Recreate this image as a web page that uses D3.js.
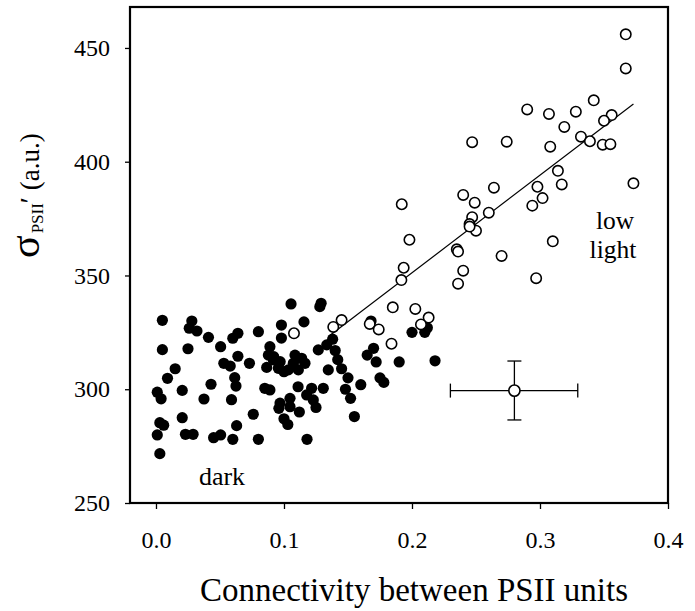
<!DOCTYPE html>
<html>
<head>
<meta charset="utf-8">
<script src="https://cdn.jsdelivr.net/npm/d3@7/dist/d3.min.js"></script>
<style>
  html, body { margin: 0; padding: 0; background: #fff; }
  svg { display: block; }
  text { font-family: "Liberation Serif", "Times New Roman", serif; fill: #000; }
</style>
</head>
<body>
<svg id="chart" width="695" height="611"></svg>
<script>
// Dark-acclimated samples: connectivity vs functional cross-section (filled dots)
const darkConnectivity = [
  0.005, 0.028, 0.026, 0.032, 0.041, 0.0505, 0.060, 0.064, 0.080, 0.005,
  0.025, 0.064, 0.053, 0.058, 0.073, 0.089, 0.092, 0.0865, 0.015, 0.009,
  0.0615, 0.0625, 0.043, 0.001, 0.004, 0.0205, 0.0375, 0.059, 0.085, 0.089,
  0.096, 0.076, 0.0205, 0.003, 0.006, 0.063, 0.001, 0.023, 0.029, 0.045,
  0.0505, 0.060, 0.080, 0.003, 0.098, 0.098, 0.1055, 0.129, 0.128, 0.1156,
  0.0878, 0.0917, 0.097, 0.0956, 0.1086, 0.1073, 0.1138, 0.1164, 0.1112, 0.1268,
  0.1334, 0.1034, 0.100, 0.111, 0.1216, 0.1307, 0.1047, 0.0969, 0.1177, 0.1229,
  0.1047, 0.1346, 0.100, 0.103, 0.112, 0.118, 0.125,
  0.138, 0.140, 0.142, 0.145, 0.150, 0.148, 0.152, 0.155, 0.160, 0.165,
  0.168, 0.170, 0.172, 0.175, 0.178, 0.190, 0.200, 0.210, 0.212, 0.218
];
const darkSigma = [
  330.3, 330.0, 326.8, 325.6, 322.8, 318.7, 322.4, 324.6, 325.3, 317.4,
  317.8, 314.5, 311.4, 310.2, 311.4, 318.7, 314.3, 309.6, 309.0, 304.8,
  305.1, 301.4, 302.2, 298.7, 295.8, 299.5, 295.7, 295.4, 300.4, 299.7,
  291.6, 289.0, 287.5, 285.3, 284.2, 284.0, 279.9, 280.2, 280.2, 278.7,
  279.9, 278.0, 278.0, 271.7, 328.2, 322.5, 337.5, 337.8, 336.3, 329.6,
  315.0, 312.9, 312.1, 309.2, 315.0, 311.4, 313.6, 311.4, 308.5, 317.3,
  319.5, 308.5, 307.7, 301.1, 300.4, 300.4, 296.0, 293.9, 297.5, 295.3,
  292.3, 308.5, 287.0, 284.5, 290.0, 278.0, 292.0,
  322.0, 317.0, 313.0, 309.0, 305.0, 300.0, 296.0, 288.0, 302.0, 315.0,
  330.0, 318.0, 312.0, 305.0, 303.0, 312.0, 325.0, 325.0, 327.0, 312.5
];

// Low-light samples (open circles)
const lightConnectivity = [
  0.367, 0.367, 0.342, 0.290, 0.307, 0.328, 0.319, 0.356, 0.350, 0.332,
  0.339, 0.349, 0.355, 0.308, 0.247, 0.274, 0.314, 0.317, 0.373, 0.298,
  0.264, 0.240, 0.249, 0.302, 0.294, 0.192, 0.260, 0.247, 0.245, 0.250,
  0.245, 0.310, 0.198, 0.270, 0.235, 0.236, 0.240, 0.236, 0.297, 0.1935,
  0.1917, 0.185, 0.2026, 0.213, 0.207, 0.167, 0.174, 0.1078, 0.1385, 0.145,
  0.184
];
const lightSigma = [
  456.0, 441.0, 427.0, 423.0, 421.0, 422.0, 415.3, 420.5, 418.0, 411.0,
  409.0, 407.5, 407.7, 406.6, 408.6, 408.8, 396.0, 390.0, 390.5, 389.0,
  388.6, 385.4, 382.0, 384.0, 380.7, 381.3, 377.6, 375.6, 372.6, 369.7,
  371.5, 365.0, 365.7, 358.6, 361.5, 360.5, 352.1, 346.4, 348.8, 353.4,
  348.0, 336.0, 335.3, 331.5, 328.5, 328.7, 326.3, 324.6, 327.4, 330.4,
  320.0
];

// Fitted trend through the low-light samples (end points of the segment)
const trendConnectivity = [0.135, 0.373];
const trendSigma = [323.3, 425.4];

// Representative error bar: mean and +/- spread
const errMean = [0.280, 299.4];
const errConnectivity = [0.230, 0.3295];
const errSigma = [286.5, 312.4];

// Axis ticks
const xTicks = [0.0, 0.1, 0.2, 0.3, 0.4];
const yTicks = [250, 300, 350, 400, 450];

const svg = d3.select("#chart");
const plotLeft = 130, plotRight = 668, plotTop = 7, plotBottom = 503;

const x = d3.scaleLinear().domain([-0.0203, 0.4]).range([plotLeft, plotRight]);
const y = d3.scaleLinear().domain([250, 468]).range([plotBottom, plotTop]);

// Axes
const xAxis = d3.axisBottom(x).tickValues(xTicks).tickFormat(d3.format(".1f"))
  .tickSize(6).tickPadding(22);
const yAxis = d3.axisLeft(y).tickValues(yTicks).tickFormat(d3.format("d"))
  .tickSize(5).tickPadding(15);

const gx = svg.append("g").attr("transform", `translate(0,${plotBottom})`).call(xAxis);
const gy = svg.append("g").attr("transform", `translate(${plotLeft},0)`).call(yAxis);
[gx, gy].forEach(g => {
  g.select(".domain").remove();
  g.selectAll(".tick line").attr("stroke", "#000").attr("stroke-width", 1.3);
  g.selectAll(".tick text").attr("font-size", 24)
    .style("font-family", '"Liberation Serif", "Times New Roman", serif').attr("fill", "#000");
});

// Plot frame
svg.append("rect")
  .attr("x", plotLeft).attr("y", plotTop)
  .attr("width", plotRight - plotLeft).attr("height", plotBottom - plotTop)
  .attr("fill", "none").attr("stroke", "#000").attr("stroke-width", 2.2);

// Trend line
svg.append("line")
  .attr("x1", x(trendConnectivity[0])).attr("y1", y(trendSigma[0]))
  .attr("x2", x(trendConnectivity[1])).attr("y2", y(trendSigma[1]))
  .attr("stroke", "#000").attr("stroke-width", 1.2);

// Dark samples
const dark = darkConnectivity.map((c, i) => ({ c, s: darkSigma[i] }));
svg.append("g").selectAll("circle").data(dark).join("circle")
  .attr("cx", d => x(d.c)).attr("cy", d => y(d.s)).attr("r", 5.6)
  .attr("fill", "#000");

// Low-light samples
const light = lightConnectivity.map((c, i) => ({ c, s: lightSigma[i] }));
svg.append("g").selectAll("circle").data(light).join("circle")
  .attr("cx", d => x(d.c)).attr("cy", d => y(d.s)).attr("r", 5.2)
  .attr("fill", "#fff").attr("stroke", "#000").attr("stroke-width", 1.6);

// Error bar with caps
const eb = svg.append("g").attr("stroke", "#000").attr("stroke-width", 1.3);
eb.append("line").attr("x1", x(errConnectivity[0])).attr("x2", x(errConnectivity[1]))
  .attr("y1", y(errMean[1])).attr("y2", y(errMean[1]));
eb.append("line").attr("x1", x(errMean[0])).attr("x2", x(errMean[0]))
  .attr("y1", y(errSigma[0])).attr("y2", y(errSigma[1]));
errConnectivity.forEach(v => eb.append("line")
  .attr("x1", x(v)).attr("x2", x(v))
  .attr("y1", y(errMean[1]) - 7).attr("y2", y(errMean[1]) + 7));
errSigma.forEach(v => eb.append("line")
  .attr("x1", x(errMean[0]) - 7).attr("x2", x(errMean[0]) + 7)
  .attr("y1", y(v)).attr("y2", y(v)));
svg.append("circle").attr("cx", x(errMean[0])).attr("cy", y(errMean[1])).attr("r", 5.6)
  .attr("fill", "#fff").attr("stroke", "#000").attr("stroke-width", 1.6);

// Group labels
svg.append("text").attr("x", 222).attr("y", 485).attr("text-anchor", "middle")
  .attr("font-size", 26).text("dark");
svg.append("text").attr("x", 615).attr("y", 229).attr("text-anchor", "middle")
  .attr("font-size", 25.5).text("low");
svg.append("text").attr("x", 613).attr("y", 258).attr("text-anchor", "middle")
  .attr("font-size", 25.5).text("light");

// Axis titles
svg.append("text").attr("x", 414).attr("y", 601).attr("text-anchor", "middle")
  .attr("font-size", 33).text("Connectivity between PSII units");

const yt = svg.append("text").attr("transform", "translate(39,258) rotate(-90)");
yt.append("tspan").attr("font-size", 42).text("σ");
yt.append("tspan").attr("font-size", 17).attr("dy", 4).attr("dx", 2).text("PSII");
yt.append("tspan").attr("font-size", 28).attr("dy", -4).text("′");
yt.append("tspan").attr("font-size", 27).text(" (a.u.)");
</script>
</body>
</html>
